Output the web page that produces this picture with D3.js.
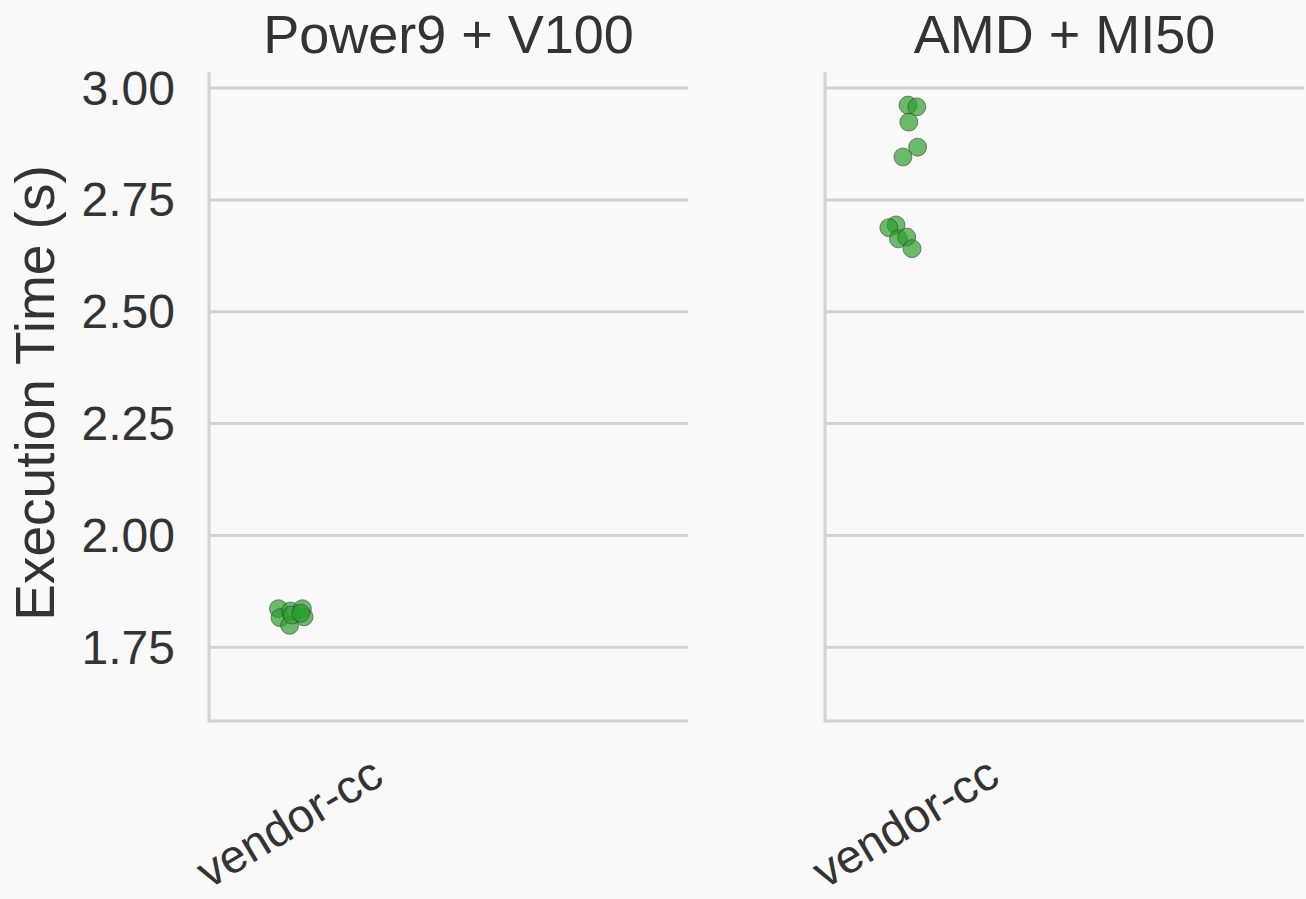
<!DOCTYPE html>
<html>
<head>
<meta charset="utf-8">
<script src="https://cdn.jsdelivr.net/npm/d3@7"></script>
<style>
  html, body { margin: 0; padding: 0; background: #f9f9f9; }
  svg { display: block; }
  text { font-family: "Liberation Sans", Arial, sans-serif; fill: #333; }
</style>
</head>
<body>
<svg id="chart" width="1306" height="899"></svg>
<script>
// Platforms shown as side-by-side panels
const panels = ["Power9 + V100", "AMD + MI50"];
// Compiler categories on the x axis (three slots, only the first has measurements)
const categories = ["vendor-cc"];
const categorySlots = 3;
// Y axis ticks
const yTicks = [1.75, 2.00, 2.25, 2.50, 2.75, 3.00];
const yLabel = "Execution Time (s)";

// Measured execution times (s) per run, per panel, for vendor-cc
const timesPower9 = [1.836, 1.816, 1.799, 1.831, 1.822, 1.836, 1.818, 1.826];
const timesAMD = [2.962, 2.958, 2.924, 2.868, 2.846, 2.694, 2.688, 2.663, 2.667, 2.641];
// Horizontal strip jitter (in category units) for each run
const jitterPower9 = [-0.065, -0.055, 0.005, 0.01, 0.02, 0.085, 0.095, 0.075];
const jitterAMD = [0.02, 0.075, 0.025, 0.08, -0.012, -0.055, -0.1, -0.04, 0.012, 0.045];

const series = [
  { title: panels[0], values: timesPower9, jitter: jitterPower9 },
  { title: panels[1], values: timesAMD, jitter: jitterAMD }
];

const svg = d3.select("#chart");
const panelLeft = [209, 825];
const panelWidth = 479;
const plotTop = 72, plotBottom = 721;
const gridColor = "#d2d2d2";

const y = d3.scaleLinear().domain([1.585, 3.036]).range([plotBottom, plotTop]);

series.forEach((s, i) => {
  const x0 = panelLeft[i];
  const x = d3.scaleLinear().domain([-0.5, categorySlots - 0.5]).range([x0, x0 + panelWidth]);
  const g = svg.append("g");

  // horizontal gridlines
  g.selectAll("line.grid").data(yTicks).join("line")
    .attr("class", "grid")
    .attr("x1", x0).attr("x2", x0 + panelWidth)
    .attr("y1", d => y(d)).attr("y2", d => y(d))
    .attr("stroke", gridColor).attr("stroke-width", 3);

  // spines
  g.append("line").attr("x1", x0).attr("x2", x0).attr("y1", plotTop).attr("y2", plotBottom + 1.5)
    .attr("stroke", gridColor).attr("stroke-width", 3);
  g.append("line").attr("x1", x0).attr("x2", x0 + panelWidth).attr("y1", plotBottom).attr("y2", plotBottom)
    .attr("stroke", gridColor).attr("stroke-width", 3);

  // y tick labels on the first panel only
  if (i === 0) {
    g.selectAll("text.ytick").data(yTicks).join("text")
      .attr("class", "ytick")
      .attr("x", x0 - 34).attr("y", d => y(d))
      .attr("text-anchor", "end").attr("dominant-baseline", "central")
      .attr("font-size", 48)
      .text(d3.format(".2f"));
  }

  // x tick labels
  categories.forEach((c, ci) => {
    g.append("text")
      .attr("transform", `translate(${x(ci)},822) rotate(-31)`)
      .attr("text-anchor", "middle").attr("dominant-baseline", "central")
      .attr("font-size", 47)
      .text(c);
  });

  // panel title
  g.append("text")
    .attr("x", x0 + panelWidth / 2).attr("y", 53)
    .attr("text-anchor", "middle")
    .attr("font-size", 54)
    .text(s.title);

  // strip points
  g.selectAll("circle").data(s.values).join("circle")
    .attr("cx", (d, k) => x(0 + s.jitter[k]))
    .attr("cy", d => y(d))
    .attr("r", 9)
    .attr("fill", "#2ca02c").attr("fill-opacity", 0.7)
    .attr("stroke", "#333").attr("stroke-opacity", 0.55).attr("stroke-width", 1);
});

// y axis label
svg.append("text")
  .attr("transform", "translate(35,393) rotate(-90)")
  .attr("text-anchor", "middle").attr("dominant-baseline", "central")
  .attr("font-size", 55)
  .text(yLabel);
</script>
</body>
</html>
